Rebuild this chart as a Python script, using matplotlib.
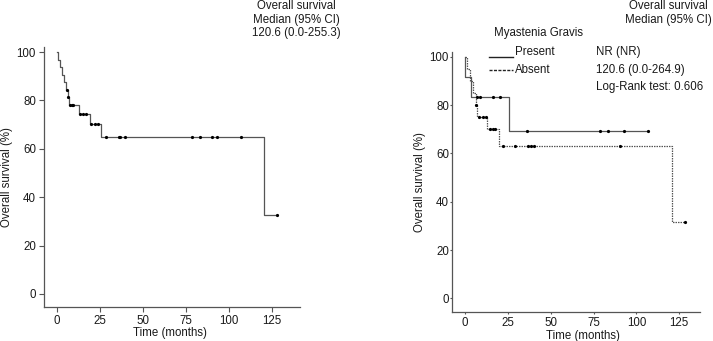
## Kaplan-Meier overall survival: all patients and by myasthenia gravis status

import numpy as np
import matplotlib
matplotlib.use('agg')
from matplotlib import pyplot as plt

# --- data ---
# all patients
all_times = [0, 0.8, 1.9, 3.0, 4.1, 5.2, 6.3, 6.7, 13.0, 19.4, 25.4, 120.6, 128.0]
all_surv = [100, 96.9, 93.8, 90.6, 87.5, 84.4, 81.3, 78.1, 74.6, 70.4, 65.0, 32.5, 32.5]
all_censor = [5.9, 6.5, 7.6, 8.5, 9.5, 13.4, 15.0, 16.7, 20.0, 22.0, 24.0,
              28.5, 36.0, 36.6, 39.5, 78.5, 83.3, 90.0, 92.8, 106.8, 128.0]

# myasthenia gravis present
present_times = [0, 0.2, 3.3, 25.6, 106.8]
present_surv = [100, 91.7, 83.3, 69.4, 69.4]
present_censor = [6.8, 8.7, 16.5, 20.4, 36.3, 78.7, 83.5, 92.8, 106.8]

# myasthenia gravis absent
absent_times = [0, 1.0, 2.6, 4.8, 6.4, 6.8, 13.0, 19.8, 120.6, 128.2]
absent_surv = [100, 95, 90, 85, 80, 75, 70, 63, 31.5, 31.5]
absent_censor = [6.6, 8.2, 10.2, 12.0, 14.4, 16.1, 17.5, 22.2, 29.1, 36.6,
                 38.3, 40.2, 90.3, 128.2]

x_ticks = [0, 25, 50, 75, 100, 125]
y_ticks = [0, 20, 40, 60, 80, 100]

W, H = 713, 341
LINE = '#555555'
TXT = '#1a1a1a'
FS = 8.3

plt.rcParams['font.family'] = ['Liberation Sans', 'DejaVu Sans']


def fx(px):
    return px / W


def fy(py):
    return 1 - py / H


def step_value(times, surv, t):
    i = np.searchsorted(times, t, side='right') - 1
    return surv[i]


def km(ax, times, surv, censor, ls):
    ax.step(times, surv, where='post', color=LINE, lw=0.9, linestyle=ls)
    cy = [step_value(times, surv, t) for t in censor]
    ax.plot(censor, cy, 'o', color='black', ms=2.3, mew=0, zorder=3)


def style_axes(ax, xlim, ylim, tlen, tpad_y, tpad_x):
    ax.set_xlim(*xlim)
    ax.set_ylim(*ylim)
    ax.set_xticks(x_ticks)
    ax.set_yticks(y_ticks)
    for s in ['top', 'right']:
        ax.spines[s].set_visible(False)
    for s in ['left', 'bottom']:
        ax.spines[s].set_color('#555555')
        ax.spines[s].set_linewidth(0.9)
    ax.tick_params(axis='y', length=tlen, pad=tpad_y, color='#555555',
                   labelsize=FS, labelcolor=TXT, width=0.8)
    ax.tick_params(axis='x', length=tlen, pad=tpad_x, color='#555555',
                   labelsize=FS, labelcolor=TXT, width=0.8)


fig = plt.figure(figsize=(W / 100, H / 100), dpi=100)

# left panel: all patients
ax1 = fig.add_axes([fx(44), fy(307), fx(300) - fx(44), fy(47) - fy(307)])
km(ax1, all_times, all_surv, all_censor, '-')
style_axes(ax1, (-7.6, 141.3), (-5.4, 102.1), 3.6, 2.2, 2.0)

fig.text(fx(296.5), fy(6), 'Overall survival', ha='center', va='center', fontsize=FS, color=TXT)
fig.text(fx(296.5), fy(20), 'Median (95% CI)', ha='center', va='center', fontsize=FS, color=TXT)
fig.text(fx(296.5), fy(33), '120.6 (0.0-255.3)', ha='center', va='center', fontsize=FS, color=TXT)
fig.text(fx(7), fy(177), 'Overall survival (%)', rotation=90, ha='center', va='center',
         fontsize=FS, color=TXT)
fig.text(fx(170), fy(333), 'Time (months)', ha='center', va='center', fontsize=FS, color=TXT)

# right panel: by myasthenia gravis
ax2 = fig.add_axes([fx(451.7), fy(311.7), fx(700) - fx(451.7), fy(51.7) - fy(311.7)])
km(ax2, present_times, present_surv, present_censor, '-')
km(ax2, absent_times, absent_surv, absent_censor, (0, (1.2, 0.8)))
style_axes(ax2, (-7.8, 137.1), (-5.5, 102.1), 1.6, 0.4, 2.2)

fig.text(fx(668), fy(6), 'Overall survival', ha='center', va='center', fontsize=FS, color=TXT)
fig.text(fx(668), fy(20), 'Median (95% CI)', ha='center', va='center', fontsize=FS, color=TXT)
fig.text(fx(538), fy(32.7), 'Myastenia Gravis', ha='center', va='center', fontsize=FS, color=TXT)

# legend, drawn by hand
fig.add_artist(plt.Line2D([fx(489), fx(513)], [fy(57.3), fy(57.3)], color='#222222', lw=1.0))
fig.add_artist(plt.Line2D([fx(489), fx(513)], [fy(70), fy(70)], color='#222222', lw=1.0,
                          linestyle=(0, (2.2, 1.0))))
fig.text(fx(515), fy(51.7), 'Present', ha='left', va='center', fontsize=FS, color=TXT)
fig.text(fx(515), fy(70), 'Absent', ha='left', va='center', fontsize=FS, color=TXT)
fig.text(fx(596), fy(51.7), 'NR (NR)', ha='left', va='center', fontsize=FS, color=TXT)
fig.text(fx(596), fy(70), '120.6 (0.0-264.9)', ha='left', va='center', fontsize=FS, color=TXT)
fig.text(fx(596), fy(87.3), 'Log-Rank test: 0.606', ha='left', va='center', fontsize=FS, color=TXT)

fig.text(fx(419.5), fy(181.7), 'Overall survival (%)', rotation=90, ha='center', va='center',
         fontsize=FS, color=TXT)
fig.text(fx(583), fy(335.5), 'Time (months)', ha='center', va='center', fontsize=FS, color=TXT)

fig.savefig('out.png', dpi=100)
